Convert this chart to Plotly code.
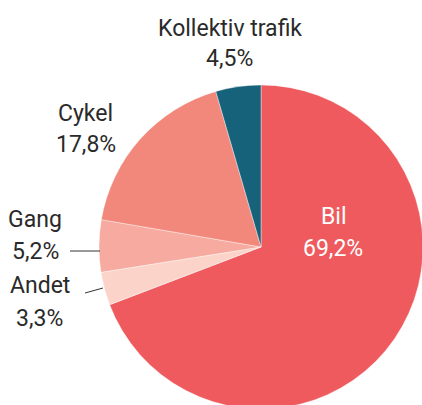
import plotly.graph_objects as go

# ---- data ----
labels = ["Bil", "Andet", "Gang", "Cykel", "Kollektiv trafik"]
values = [69.2, 3.3, 5.2, 17.8, 4.5]
colors = ["#ee5a5d", "#fbd3c9", "#f7aa9f", "#f2887b", "#17627b"]

# ---- geometry (pixels) ----
W, H = 424, 410
ML, MR, MT, MB = 99, 1, 85, 1
PW, PH = W - ML - MR, H - MT - MB


def px(x):
    return (x - ML) / PW


def py(y):
    return (H - MB - y) / PH


def fmt(v):
    return f"{v:.1f}".replace(".", ",") + "%"


fig = go.Figure(
    go.Pie(
        labels=labels,
        values=values,
        marker=dict(colors=colors, line=dict(color="white", width=0.4)),
        sort=False,
        direction="clockwise",
        rotation=0,
        textinfo="none",
        hoverinfo="label+percent",
        showlegend=False,
        domain=dict(x=[0, 1], y=[0, 1]),
    )
)

FONT = "Roboto"
SIZE = 23
dark = "#2a2a2a"

# label placement (pixel centers of each text line)
label_pos = {
    "Kollektiv trafik": ((229.5, 28.5), (229, 58.5), dark),
    "Cykel": ((85, 113.5), (85.5, 144.5), dark),
    "Gang": ((35, 219.5), (35.5, 251.5), dark),
    "Andet": ((40, 285.5), (39.5, 318.5), dark),
    "Bil": ((334, 216.5), (333, 248.5), "white"),
}

annotations = []
for lab, val in zip(labels, values):
    (x1, y1), (x2, y2), col = label_pos[lab]
    for txt, (x, y) in ((lab, (x1, y1)), (fmt(val), (x2, y2))):
        annotations.append(
            dict(
                text=txt,
                x=px(x),
                y=py(y),
                xref="paper",
                yref="paper",
                xanchor="center",
                yanchor="middle",
                showarrow=False,
                font=dict(family=FONT, size=SIZE, color=col),
            )
        )

shapes = [
    dict(type="line", xref="paper", yref="paper",
         x0=px(70), y0=py(251), x1=px(100), y1=py(251),
         line=dict(color="#333333", width=1)),
    dict(type="line", xref="paper", yref="paper",
         x0=px(85), y0=py(293), x1=px(103), y1=py(288),
         line=dict(color="#333333", width=1)),
]

fig.update_layout(
    width=W,
    height=H,
    margin=dict(l=ML, r=MR, t=MT, b=MB, pad=0),
    paper_bgcolor="white",
    plot_bgcolor="white",
    annotations=annotations,
    shapes=shapes,
    font=dict(family=FONT, size=SIZE, color=dark),
)

fig.write_html(
    "out.html",
    config={"displayModeBar": False},
    post_script=(
        "document.body.style.margin='0';"
        "document.body.style.overflow='hidden';"
        "document.documentElement.style.overflow='hidden';"
    ),
)
